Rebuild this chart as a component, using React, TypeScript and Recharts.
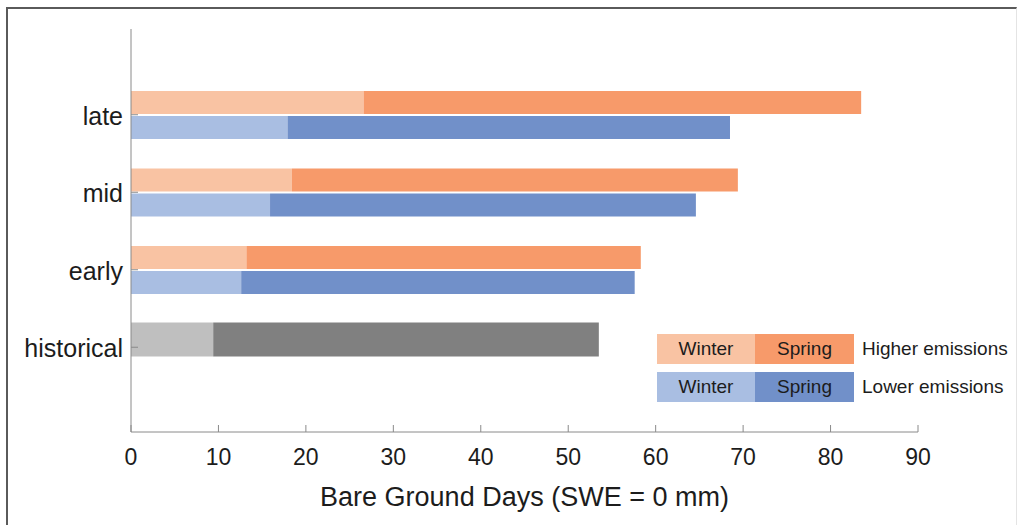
import { BarChart, Bar, XAxis, YAxis, Legend, Label } from "recharts";

const FONT = "'Liberation Sans', Arial, Helvetica, sans-serif";
const TEXT = "#1c1c1c";
const AXIS = "#8a8a8a";

const HI_WINTER = "#f9c3a3";
const HI_SPRING = "#f79a6a";
const LO_WINTER = "#a9bee2";
const LO_SPRING = "#7190c9";
const HIST_WINTER = "#bfbfbf";
const HIST_SPRING = "#808080";

const categories = ["late", "mid", "early", "historical"];
const higherWinter = [26.6, 18.4, 13.2, null];
const higherSpring = [56.9, 51.0, 45.1, null];
const lowerWinter = [17.9, 15.9, 12.6, null];
const lowerSpring = [50.6, 48.7, 45.0, null];
const historicalWinter = [null, null, null, 9.4];
const historicalSpring = [null, null, null, 44.1];

const xTicks = [0, 10, 20, 30, 40, 50, 60, 70, 80, 90];
const legendSeasons = ["Winter", "Spring"];
const legendRows = [
  { label: "Higher emissions", colors: [HI_WINTER, HI_SPRING] },
  { label: "Lower emissions", colors: [LO_WINTER, LO_SPRING] },
];

const data = categories.map((cat, i) => ({
  cat,
  hiWinter: higherWinter[i],
  hiSpring: higherSpring[i],
  histWinter: historicalWinter[i],
  histSpring: historicalSpring[i],
  loWinter: lowerWinter[i],
  loSpring: lowerSpring[i],
}));

// historical bar is drawn thicker than the paired bars
function TallBar(props: any) {
  const { x, y, width, height, fill } = props;
  if (!width || width <= 0 || !isFinite(width)) return null;
  return <rect x={x} y={y - 1} width={width} height={(height * 34) / 23} fill={fill} />;
}

function XTick({ x, y, payload }: any) {
  return (
    <g>
      <line x1={x} x2={x} y1={y} y2={y - 7} stroke={AXIS} />
      <text
        x={x}
        y={y + 25}
        textAnchor="middle"
        dominantBaseline="central"
        fontSize={23}
        fontFamily={FONT}
        fill={TEXT}
      >
        {payload.value}
      </text>
    </g>
  );
}

function YTick({ x, y, payload }: any) {
  return (
    <g>
      <line x1={x} x2={x + 7} y1={y} y2={y} stroke={AXIS} />
      <text
        x={x - 8}
        y={y + 1}
        textAnchor="end"
        dominantBaseline="central"
        fontSize={25}
        fontFamily={FONT}
        fill={TEXT}
      >
        {payload.value}
      </text>
    </g>
  );
}

function EmissionsLegend() {
  return (
    <div style={{ fontFamily: FONT, fontSize: 19, color: TEXT }}>
      {legendRows.map((row, r) => (
        <div
          key={row.label}
          style={{ display: "flex", alignItems: "center", height: 30, marginTop: r === 0 ? 0 : 8 }}
        >
          {legendSeasons.map((s, k) => (
            <div
              key={s}
              style={{
                width: k === 0 ? 98 : 99,
                height: 30,
                background: row.colors[k],
                display: "flex",
                alignItems: "center",
                justifyContent: "center",
              }}
            >
              {s}
            </div>
          ))}
          <span style={{ marginLeft: 8, whiteSpace: "nowrap" }}>{row.label}</span>
        </div>
      ))}
    </div>
  );
}

export default function App() {
  return (
    <div style={{ position: "absolute", left: 0, top: 0, width: 1019, height: 525, background: "#fff" }}>
      <div
        style={{
          position: "absolute",
          left: 6,
          top: 7,
          width: 1008,
          height: 518,
          borderLeft: "2px solid #5a5a5a",
          borderTop: "2px solid #5a5a5a",
          borderRight: "1px solid #e4e4e4",
        }}
      />
      <div style={{ position: "absolute", left: 0, top: 0 }}>
        <BarChart
          width={1019}
          height={525}
          data={data}
          layout="vertical"
          margin={{ top: 29, right: 101, bottom: 0, left: 0 }}
          barSize={23}
          barGap={2}
        >
          <XAxis
            type="number"
            domain={[0, 90]}
            ticks={xTicks}
            height={93}
            axisLine={{ stroke: AXIS }}
            tickLine={false}
            tickSize={0}
            tickMargin={0}
            tick={<XTick />}
            interval={0}
          >
            <Label
              content={({ viewBox }: any) => (
                <text
                  x={viewBox.x + viewBox.width / 2}
                  y={viewBox.y + 65}
                  textAnchor="middle"
                  dominantBaseline="central"
                  fontSize={27}
                  fontFamily={FONT}
                  fill={TEXT}
                >
                  Bare Ground Days (SWE = 0 mm)
                </text>
              )}
            />
          </XAxis>
          <YAxis
            type="category"
            dataKey="cat"
            width={131}
            padding={{ top: 47, bottom: 46 }}
            axisLine={{ stroke: AXIS }}
            tickLine={false}
            tickSize={0}
            tickMargin={0}
            tick={<YTick />}
            interval={0}
          />
          <Legend
            layout="horizontal"
            verticalAlign="middle"
            align="center"
            content={<EmissionsLegend />}
            wrapperStyle={{ position: "absolute", left: 657, top: 334, width: 360 }}
          />
          <Bar dataKey="hiWinter" stackId="hi" fill={HI_WINTER} isAnimationActive={false} />
          <Bar dataKey="hiSpring" stackId="hi" fill={HI_SPRING} isAnimationActive={false} />
          <Bar dataKey="histWinter" stackId="hi" fill={HIST_WINTER} shape={<TallBar />} isAnimationActive={false} />
          <Bar dataKey="histSpring" stackId="hi" fill={HIST_SPRING} shape={<TallBar />} isAnimationActive={false} />
          <Bar dataKey="loWinter" stackId="lo" fill={LO_WINTER} isAnimationActive={false} />
          <Bar dataKey="loSpring" stackId="lo" fill={LO_SPRING} isAnimationActive={false} />
        </BarChart>
      </div>
    </div>
  );
}
